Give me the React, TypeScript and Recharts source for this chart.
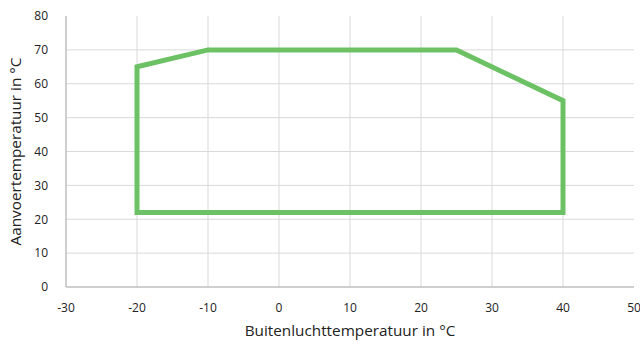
import React from 'react';
import { LineChart, Line, XAxis, YAxis, CartesianGrid, Label } from 'recharts';

// Operating envelope: outdoor air temperature vs. supply temperature
const outdoorTemp = [-20, -20, -10, 25, 40, 40, -20];
const supplyTemp = [22, 65, 70, 70, 55, 22, 22];

const xTicks = [-30, -20, -10, 0, 10, 20, 30, 40, 50];
const yTicks = [0, 10, 20, 30, 40, 50, 60, 70, 80];

const data = outdoorTemp.map((x, i) => ({ x, y: supplyTemp[i] }));

const FONT = '"Open Sans", "Noto Sans", sans-serif';
const tickStyle = { fontSize: 12, fill: '#222', fontFamily: FONT };
const titleStyle = { fontSize: 15.3, fill: '#222', fontFamily: FONT };

const App: React.FC = () => {
  return (
    <div style={{ position: 'absolute', left: 0, top: 0, width: 640, height: 345, background: '#fff' }}>
      <LineChart
        width={640}
        height={345}
        data={data}
        margin={{ top: 16, right: 6, left: 26, bottom: 0 }}
      >
        <CartesianGrid
          stroke="#d9d9d9"
          strokeWidth={1}
          horizontalValues={yTicks.slice(1, -1)}
          verticalValues={xTicks.slice(1, -1)}
        />
        <XAxis
          type="number"
          dataKey="x"
          domain={[-30, 50]}
          ticks={xTicks}
          tickLine={false}
          axisLine={{ stroke: '#bfbfbf', strokeWidth: 1.5 }}
          tick={tickStyle}
          tickMargin={10}
          interval={0}
          height={58}
        >
          <Label value="Buitenluchttemperatuur in °C" position="insideBottom" offset={9} style={titleStyle} />
        </XAxis>
        <YAxis
          type="number"
          dataKey="y"
          domain={[0, 80]}
          ticks={yTicks}
          tickLine={false}
          axisLine={{ stroke: '#bfbfbf', strokeWidth: 1.5 }}
          tick={tickStyle}
          tickMargin={12}
          interval={0}
          width={40}
        >
          <Label
            value="Aanvoertemperatuur in °C"
            angle={-90}
            position="insideLeft"
            offset={-10}
            style={{ ...titleStyle, textAnchor: 'middle' }}
          />
        </YAxis>
        <Line
          type="linear"
          dataKey="y"
          stroke="#6cc164"
          strokeWidth={5}
          strokeLinejoin="miter"
          strokeLinecap="square"
          dot={false}
          activeDot={false}
          isAnimationActive={false}
        />
      </LineChart>
    </div>
  );
};

export default App;
